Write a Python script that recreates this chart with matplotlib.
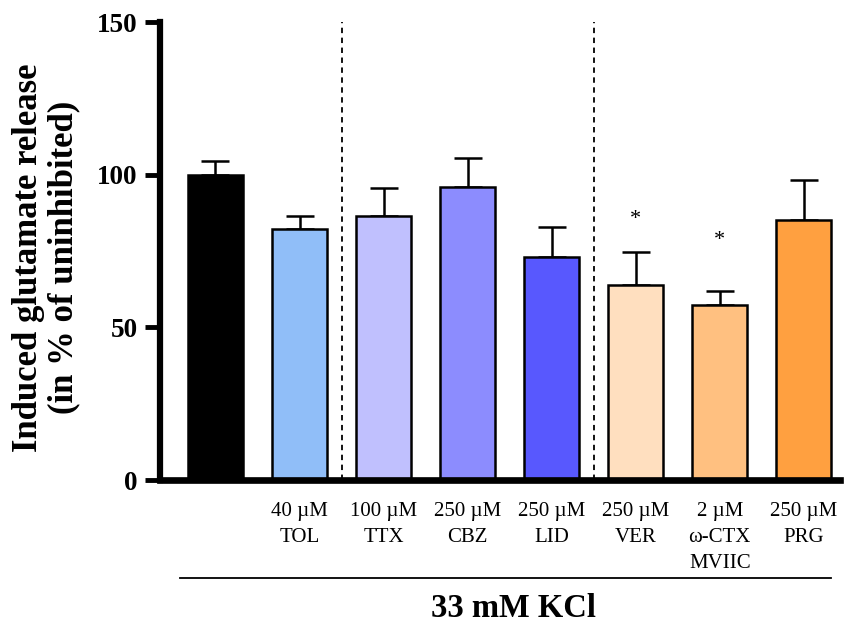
import matplotlib.pyplot as plt

plt.rcParams["font.family"] = ["Liberation Serif", "DejaVu Serif"]

groups = ["", "40 \u00b5M\nTOL", "100 \u00b5M\nTTX", "250 \u00b5M\nCBZ", "250 \u00b5M\nLID",
          "250 \u00b5M\nVER", "2 \u00b5M\n\u03c9-CTX\nMVIIC", "250 \u00b5M\nPRG"]
release = [100, 82.2, 86.4, 96.1, 72.9, 64.0, 57.2, 85.2]
sem = [4.4, 4.2, 9.1, 9.4, 9.9, 10.8, 4.7, 13.1]
significant = [False, False, False, False, False, True, True, False]
star_y = [0, 0, 0, 0, 0, 85.4, 78.6, 0]
colors = ["#000000", "#90bef8", "#c0c0fe", "#8c8cfe", "#5858fe",
          "#ffdfbf", "#ffc080", "#ffa040"]
dividers = [1.5, 4.5]

fig = plt.figure(figsize=(8.53, 6.25), dpi=100)
ax = fig.add_axes([160 / 853, 1 - 480 / 625, 680 / 853, 458 / 625])

x = list(range(len(release)))
ax.bar(x, release, width=0.655, color=colors, edgecolor="black", linewidth=1.8, zorder=2)
ax.errorbar(x, release, yerr=[[0] * len(sem), sem], fmt="none", ecolor="black",
            elinewidth=1.8, capsize=10, capthick=1.8, zorder=1)

for xi, flag, ys in zip(x, significant, star_y):
    if flag:
        ax.text(xi, ys, "*", ha="center", va="center", fontsize=16)

for d in dividers:
    ax.axvline(d, color="black", linestyle=(0, (3, 2.5)), linewidth=1.3, zorder=0)

ax.set_xlim(-0.66, 7.43)
ax.set_ylim(0, 150)
ax.set_yticks([0, 50, 100, 150])
ax.set_xticks(x)
ax.set_xticklabels(groups, fontsize=15, linespacing=1.48)
ax.tick_params(axis="x", length=0, pad=16)
ax.tick_params(axis="y", length=11, width=3.5, labelsize=19.5, pad=5)
for lab in ax.get_yticklabels():
    lab.set_fontweight("bold")

for side in ["top", "right"]:
    ax.spines[side].set_visible(False)
ax.spines["left"].set_linewidth(4.5)
ax.spines["bottom"].set_linewidth(4.8)

ax.set_ylabel("Induced glutamate release\n(in % of uninhibited)", fontsize=25,
              fontweight="bold", linespacing=1.1)
ax.yaxis.set_label_coords(-0.117, 0.485)

trans = ax.get_xaxis_transform()
ax.plot([-0.42, 7.32], [-0.214, -0.214], color="black", linewidth=1.3,
        transform=trans, clip_on=False)
ax.text(3.55, -0.28, "33 mM KCl", transform=trans, ha="center", va="center",
        fontsize=23.5, fontweight="bold")

fig.savefig("out.png", dpi=100)
